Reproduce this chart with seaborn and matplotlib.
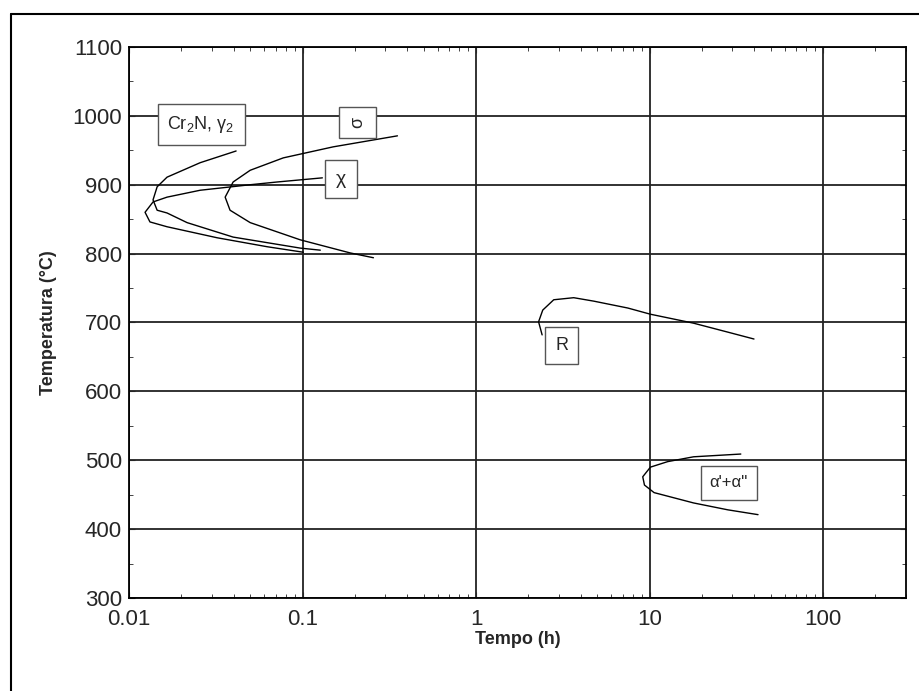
import numpy as np
import pandas as pd
import seaborn as sns
import matplotlib.pyplot as plt
from matplotlib.ticker import MultipleLocator, LogLocator, NullFormatter, FixedLocator
from matplotlib.lines import Line2D

# curvas TTT (tempo em h, temperatura em C)
cr2n_t = [0.0414, 0.0257, 0.01656, 0.01452, 0.01375, 0.01452, 0.01656, 0.0216, 0.0398, 0.097, 0.1265]
cr2n_T = [949, 932, 911, 897, 878, 863, 859, 845, 824, 808, 805]

chi_t = [0.130, 0.0714, 0.0499, 0.0257, 0.01656, 0.01375, 0.01237, 0.0132, 0.01656, 0.0322, 0.0625, 0.101]
chi_T = [910, 904, 900, 892, 882, 875, 860, 846, 839, 823, 810, 802]

sigma_t = [0.352, 0.150, 0.0774, 0.0499, 0.0398, 0.0358, 0.0382, 0.0499, 0.097, 0.188, 0.256]
sigma_T = [971, 955, 939, 921, 904, 882, 863, 845, 820, 801, 794]

r_t = [2.40, 2.29, 2.42, 2.80, 3.65, 4.76, 7.48, 10.1, 17.9, 28.2, 39.9]
r_T = [682, 701, 718, 733, 736, 731, 721, 712, 699, 686, 676]

alfa_t = [33.5, 17.9, 12.7, 10.1, 9.12, 9.33, 10.6, 17.9, 28.2, 42.1]
alfa_T = [509, 505, 498, 490, 476, 464, 453, 438, 428, 421]

# rotulos das fases
labels = [r"Cr$_2$N, $\gamma_2$", "σ", "χ", "R", "α'+α''"]
label_t = [0.026, 0.207, 0.167, 3.11, 28.6]
label_T = [987, 990, 908, 666, 467]
label_rot = [0, 90, 0, 0, 0]
label_size = [13, 13, 14, 13, 12]

sns.set_style("ticks")
plt.rcParams['font.family'] = ['Liberation Sans', 'DejaVu Sans']
plt.rcParams['mathtext.fontset'] = 'custom'
plt.rcParams['mathtext.rm'] = 'Liberation Sans'
plt.rcParams['mathtext.it'] = 'Liberation Sans'

fig = plt.figure(figsize=(9.19, 6.91), dpi=100)
ax = fig.add_axes([0.1404, 0.1346, 0.8455, 0.7974])

for t, T in [(cr2n_t, cr2n_T), (chi_t, chi_T), (sigma_t, sigma_T), (r_t, r_T), (alfa_t, alfa_T)]:
    sns.lineplot(x=t, y=T, sort=False, estimator=None, color='black', lw=1.0, ax=ax)

for txt, t, T, rot, fs in zip(labels, label_t, label_T, label_rot, label_size):
    ax.text(t, T, txt, ha='center', va='center', fontsize=fs, rotation=rot,
            bbox=dict(boxstyle='square,pad=0.55', fc='white', ec='#555555', lw=1.0))

ax.set_xscale('log')
ax.set_xlim(0.01, 300)
ax.set_ylim(300, 1100)
ax.xaxis.set_major_locator(FixedLocator([0.01, 0.1, 1, 10, 100]))
ax.set_xticklabels(['0.01', '0.1', '1', '10', '100'])
ax.xaxis.set_minor_locator(LogLocator(base=10, subs=np.arange(2, 10)))
ax.xaxis.set_minor_formatter(NullFormatter())
ax.yaxis.set_major_locator(MultipleLocator(100))
ax.yaxis.set_minor_locator(MultipleLocator(50))

ax.grid(True, which='major', color='#222222', lw=1.3)
ax.tick_params(which='both', direction='in', top=True, right=True, labelsize=16)
ax.tick_params(axis='y', pad=5)
ax.tick_params(axis='x', pad=8)
ax.tick_params(which='major', length=4)
ax.tick_params(which='minor', length=3)
for s in ax.spines.values():
    s.set_linewidth(1.3)
    s.set_color('black')

ax.set_xlabel('Tempo (h)', fontsize=13, fontweight='bold', labelpad=1)
ax.set_ylabel('Temperatura (°C)', fontsize=13, fontweight='bold', labelpad=11)

# moldura da figura (so em cima e a esquerda)
fig.add_artist(Line2D([11 / 919, 1.0], [1 - 14 / 691, 1 - 14 / 691], color='black', lw=1.5))
fig.add_artist(Line2D([11 / 919, 11 / 919], [0.0, 1 - 14 / 691], color='black', lw=1.5))

fig.savefig('out.png', dpi=100)
